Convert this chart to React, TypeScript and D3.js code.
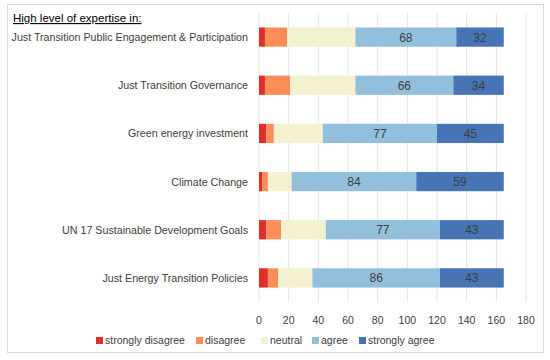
import React from "react";
import * as d3 from "d3";

const categories = [
  "Just Transition Public Engagement & Participation",
  "Just Transition Governance",
  "Green energy investment",
  "Climate Change",
  "UN 17 Sustainable Development Goals",
  "Just Energy Transition Policies",
];
const seriesNames = ["strongly disagree", "disagree", "neutral", "agree", "strongly agree"];
const stronglyDisagree = [4, 4, 5, 2, 5, 6];
const disagree = [15, 17, 5, 4, 10, 7];
const neutral = [46, 44, 33, 16, 30, 23];
const agree = [68, 66, 77, 84, 77, 86];
const stronglyAgree = [32, 34, 45, 59, 43, 43];
const ticks = [0, 20, 40, 60, 80, 100, 120, 140, 160, 180];
const colors = ["#dc3127", "#fc8d59", "#f3f1d0", "#92bfdc", "#4674b5"];

const W = 550;
const H = 360;
const font = "'Liberation Sans', Arial, sans-serif";

export default function App() {
  const series = [stronglyDisagree, disagree, neutral, agree, stronglyAgree];
  const rows = categories.map((c, i) => {
    const r: any = { cat: c };
    seriesNames.forEach((s, j) => (r[s] = series[j][i]));
    return r;
  });
  const stacked = d3.stack().keys(seriesNames)(rows);

  const x = d3.scaleLinear().domain([0, 180]).range([259, 526]);
  const y = d3.scaleBand().domain(categories).range([13, 302]).paddingInner(0.6).paddingOuter(0.3);

  // legend layout
  const legendX = [96, 196, 261, 312, 359];

  return (
    <svg
      width={W}
      height={H}
      style={{ position: "absolute", left: 0, top: 0, background: "#fff" }}
      fontFamily={font}
    >
      <rect x={7.5} y={4.5} width={536} height={348} fill="#fff" stroke="#d9d9d9" />
      <text x={13} y={22} fontSize={11.5} fill="#000" textDecoration="underline">
        High level of expertise in:
      </text>
      {ticks.map(t => (
        <line key={t} x1={x(t)} x2={x(t)} y1={13} y2={302} stroke="#e4e4e4" />
      ))}
      {stacked.map((layer, j) => (
        <g key={layer.key} fill={colors[j]}>
          {layer.map((d: any, i) => (
            <rect
              key={i}
              x={x(d[0])}
              y={y(categories[i])}
              width={x(d[1]) - x(d[0])}
              height={y.bandwidth()}
            />
          ))}
        </g>
      ))}
      {stacked.slice(3).map(layer =>
        layer.map((d: any, i) => (
          <text
            key={layer.key + i}
            x={(x(d[0]) + x(d[1])) / 2}
            y={y(categories[i])! + y.bandwidth() / 2 + 4.5}
            textAnchor="middle"
            fontSize={12}
            fill="#404040"
          >
            {d[1] - d[0]}
          </text>
        ))
      )}
      {categories.map(c => (
        <text
          key={c}
          x={248}
          y={y(c)! + y.bandwidth() / 2 + 4}
          textAnchor="end"
          fontSize={10.7}
          fill="#404040"
        >
          {c}
        </text>
      ))}
      {ticks.map(t => (
        <text key={t} x={x(t)} y={324} textAnchor="middle" fontSize={10.5} fill="#404040">
          {t}
        </text>
      ))}
      {seriesNames.map((s, j) => (
        <g key={s}>
          <rect x={legendX[j]} y={337} width={7} height={7} fill={colors[j]} />
          <text x={legendX[j] + 9} y={344} fontSize={10.5} fill="#404040">
            {s}
          </text>
        </g>
      ))}
    </svg>
  );
}
